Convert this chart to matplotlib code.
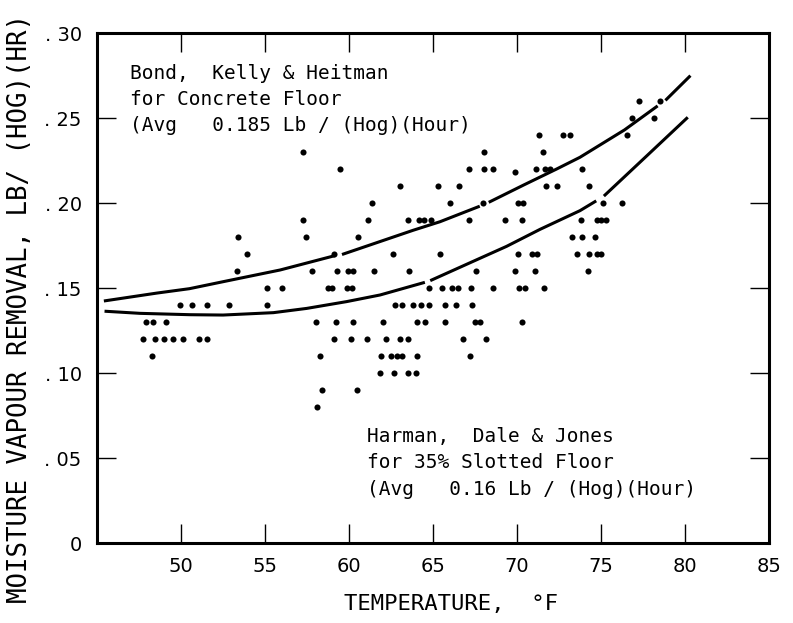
import numpy as np
import matplotlib
matplotlib.use("Agg")
import matplotlib.pyplot as plt

# scatter points: temperature (F) and moisture removal (lb/hog/hr)
temp = [53.35, 53.95, 53.4, 55.1, 55.1, 49.92, 50.64, 51.57, 52.88,
        47.92, 48.35, 49.08, 47.74, 48.47, 48.97, 49.52, 50.1, 51.09, 51.55, 48.3,
        57.26, 59.48, 63.04, 65.28, 61.39, 57.28, 61.15, 63.49, 64.17, 64.46, 64.9,
        57.46, 60.51, 59.13, 62.62, 57.77, 59.29, 59.94, 60.24, 61.46, 63.6,
        55.99, 58.75, 58.97, 59.86, 60.2, 64.74, 62.71, 63.13, 63.79, 64.3, 64.74,
        58.04, 59.24, 60.24, 62.02, 64.02, 64.52, 59.11, 60.12, 61.07, 62.18, 63.01, 63.51,
        58.29, 61.88, 62.52, 62.84, 63.15, 64.02, 61.82, 62.68, 63.49, 63.99,
        58.41, 60.46, 58.11,
        71.31, 72.72, 73.15, 68.05, 71.55, 67.12, 68.02, 68.55, 71.11, 71.67, 71.96, 69.88,
        66.57, 71.73, 72.38, 66.03, 67.95, 70.08, 70.36, 67.14, 69.26, 70.27, 73.3,
        73.55, 65.42, 70.08, 70.87, 71.19, 67.58, 69.86, 71.07,
        65.51, 66.11, 66.47, 67.26, 68.57, 70.15, 70.48, 71.63, 65.71, 66.37, 67.34,
        65.73, 67.48, 67.8, 70.31, 66.8, 68.15, 67.2,
        77.24, 78.51, 76.87, 78.15, 76.55, 73.85, 74.26, 75.12, 76.25,
        73.83, 74.74, 74.98, 75.3, 73.87, 74.62, 74.29, 74.74, 74.98, 74.23]
removal = [.16, .17, .18, .15, .14, .14, .14, .14, .14,
           .13, .13, .13, .12, .12, .12, .12, .12, .12, .12, .11,
           .23, .22, .21, .21, .20, .19, .19, .19, .19, .19, .19,
           .18, .18, .17, .17, .16, .16, .16, .16, .16, .16,
           .15, .15, .15, .15, .15, .15, .14, .14, .14, .14, .14,
           .13, .13, .13, .13, .13, .13, .12, .12, .12, .12, .12, .12,
           .11, .11, .11, .11, .11, .11, .10, .10, .10, .10,
           .09, .09, .08,
           .24, .24, .24, .23, .23, .22, .22, .22, .22, .22, .22, .218,
           .21, .21, .21, .20, .20, .20, .20, .19, .19, .19, .18,
           .17, .17, .17, .17, .17, .16, .16, .16,
           .15, .15, .15, .15, .15, .15, .15, .15, .14, .14, .14,
           .13, .13, .13, .13, .12, .12, .11,
           .26, .26, .25, .25, .24, .22, .21, .20, .20,
           .19, .19, .19, .19, .18, .18, .17, .17, .17, .16]

# fitted curves (nan = small break in the drawn line)
bond_x = [45.5, 48.55, 50.5, 52.5, 55.9, 59.07, np.nan, 59.67, 63.83, 65.42, 67.7,
          np.nan, 68.4, 70.4, 72.36, 73.75, 76.4, 78.3, np.nan, 78.9, 80.26]
bond_y = [.1425, .1470, .1496, .1537, .1606, .1688, np.nan, .1700, .1840, .1890, .1978,
          np.nan, .2008, .2106, .2200, .2269, .2430, .2566, np.nan, .2610, .2743]
harman_x = [45.54, 47.56, 50.54, 52.5, 55.5, 57.48, 59.86, 61.85, 64.43, np.nan,
            64.92, 67.8, 69.38, 71.37, 73.75, 74.64, np.nan, 75.24, 77.7, 80.1]
harman_y = [.1363, .1351, .1343, .1341, .1355, .1380, .1420, .1459, .1531, np.nan,
            .1547, .1675, .1745, .1845, .1955, .2008, np.nan, .2047, .2275, .2498]

xticks = [50, 55, 60, 65, 70, 75, 80, 85]
yticks = [0, .05, .10, .15, .20, .25, .30]
ytick_labels = ["0", ". 05", ". 10", ". 15", ". 20", ". 25", ". 30"]

bond_text = ["Bond,  Kelly & Heitman", "for Concrete Floor", "(Avg   0.185 Lb / (Hog)(Hour)"]
harman_text = ["Harman,  Dale & Jones", "for 35% Slotted Floor", "(Avg   0.16 Lb / (Hog)(Hour)"]

mono = ["DejaVu Sans Mono"]

fig = plt.figure(figsize=(7.93, 6.23), dpi=100)
ax = fig.add_axes([0.1223, 0.1284, 0.8474, 0.8186])

ax.plot(temp, removal, "o", color="black", markersize=4.4, markeredgewidth=0)
ax.plot(bond_x, bond_y, color="black", linewidth=2.2)
ax.plot(harman_x, harman_y, color="black", linewidth=2.2)

ax.set_xlim(45, 85)
ax.set_ylim(0, 0.30)
ax.set_xticks(xticks)
ax.set_yticks(yticks)
ax.set_yticklabels(ytick_labels)
ax.tick_params(direction="in", length=14, width=1, top=True, right=True,
               labelsize=14)
ax.tick_params(axis="x", pad=10)
ax.tick_params(axis="y", pad=11)
for sp in ax.spines.values():
    sp.set_linewidth(2.2)

for i, line in enumerate(bond_text):
    ax.text(0.049, [0.9108, 0.8598, 0.8078][i], line, transform=ax.transAxes,
            fontsize=14, family=mono, va="baseline")
for i, line in enumerate(harman_text):
    ax.text(0.4018, [0.1990, 0.1461, 0.0951][i], line, transform=ax.transAxes,
            fontsize=14, family=mono, va="baseline")

fig.text(0.569, 0.031, "TEMPERATURE,  \u00b0F", ha="center", va="center",
         fontsize=16, family=mono)
fig.text(0.025, 0.505, "MOISTURE VAPOUR REMOVAL, LB/ (HOG)(HR)", rotation=90,
         ha="center", va="center", fontsize=18.5, family=mono)

fig.savefig("out.png", dpi=100)
